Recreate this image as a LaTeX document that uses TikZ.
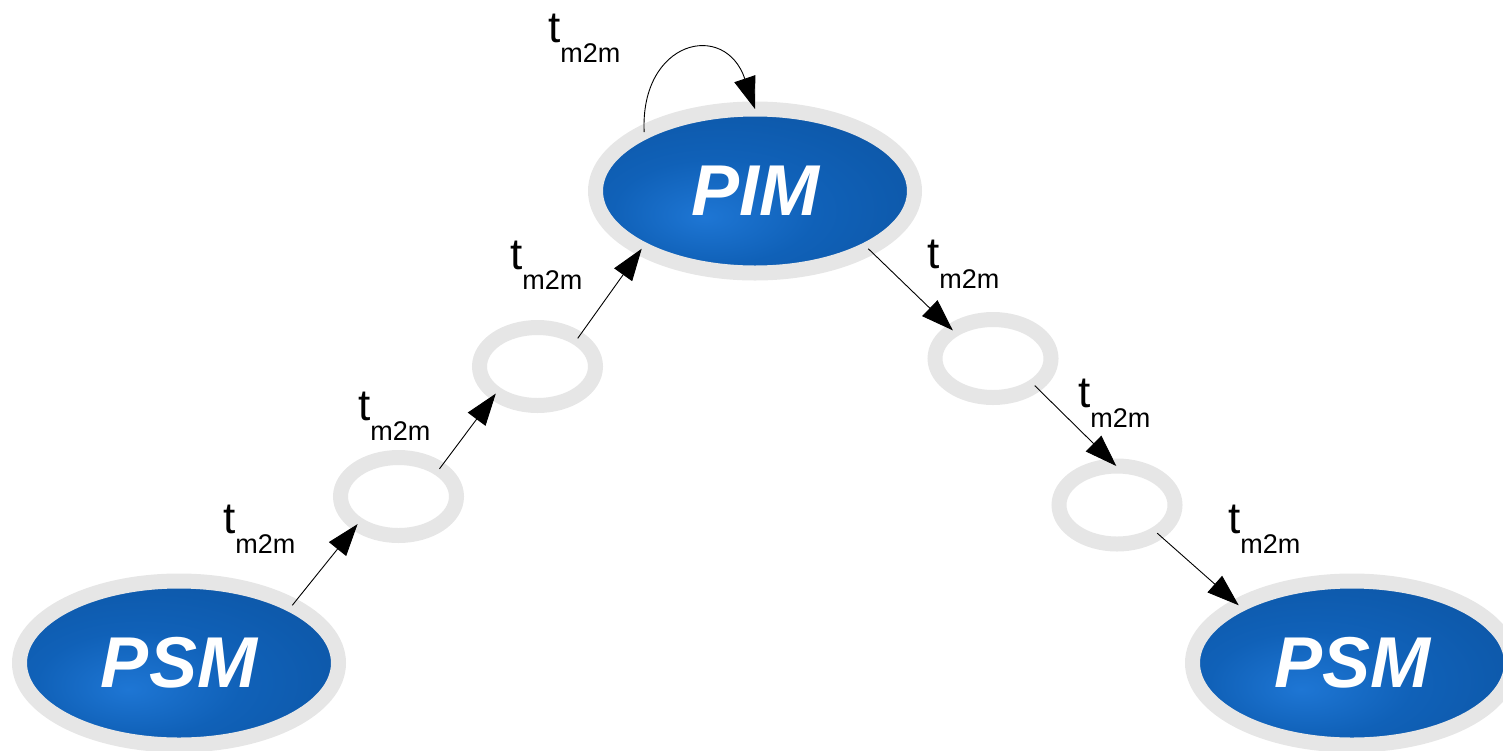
\documentclass[tikz,border=0pt]{standalone}
\usepackage{fontspec}
\setmainfont{Liberation Sans}
\usetikzlibrary{shapes.geometric,arrows.meta}

\definecolor{ringgray}{HTML}{E6E6E6}
\definecolor{blueA}{HTML}{1E76D4}
\definecolor{blueB}{HTML}{1061B8}
\definecolor{blueC}{HTML}{0A4E98}

% soft radial glow for the model ellipses, centre a little left and low
\pgfdeclareradialshading{modelblue}{\pgfpoint{-8bp}{-8bp}}{%
  color(0bp)=(blueA); color(16bp)=(blueB); color(50bp)=(blueC); color(75bp)=(blueC)}

\tikzset{
  model/.style={ellipse, draw=ringgray, line width=15pt, shade, shading=modelblue,
    minimum width=319pt, minimum height=164pt, inner sep=0pt, outer sep=0pt,
    text=white, font=\fontsize{72}{80}\selectfont\bfseries\itshape},
  stage/.style={ellipse, draw=ringgray, line width=15pt, fill=white,
    minimum width=116pt, minimum height=78pt, inner sep=0pt, outer sep=0pt},
  conn/.style={draw=black, line width=0.9pt, -{Triangle[length=32pt,width=22pt]}},
  tlabel/.style={anchor=base west, inner sep=0pt, text=black,
    font=\fontsize{44}{48}\selectfont}
}
\newcommand{\tmm}{t\raisebox{-20pt}{\fontsize{27}{30}\selectfont m2m}}

\begin{document}
\begin{tikzpicture}[x=1pt,y=-1pt]
  \useasboundingbox (0,0) rectangle (1503,750);

  % models
  \node[model] (pim)  at (755,191) {PIM};
  \node[model] (psmL) at (179,663) {PSM};
  \node[model] (psmR) at (1352,663) {PSM};

  % intermediate stages
  \node[stage] (sa) at (398.5,496.5) {};
  \node[stage] (sb) at (537.5,366.5) {};
  \node[stage] (sc) at (993,358.5) {};
  \node[stage] (sd) at (1117,505) {};

  % transformations
  \draw[conn] (psmL.27) -- (sa.214.5);
  \draw[conn] (sa.34.5) -- (sb.213.5);
  \draw[conn] (sb.35) -- (pim.207.6);
  \draw[conn] (pim.152.8) .. controls (640,40) and (725,20) .. (pim.90);
  \draw[conn] (pim.-27.8) -- (sc.145.2);
  \draw[conn] (sc.-33.9) -- (sd.91.4);
  \draw[conn] (sd.-35) -- (psmR.153);

  % labels
  \node[tlabel] (l1) at (223,533) {\tmm};
  \node[tlabel] (l2) at (358,420) {\tmm};
  \node[tlabel] (l3) at (510,269) {\tmm};
  \node[tlabel] (l4) at (548,42)  {\tmm};
  \node[tlabel] (l5) at (927,268) {\tmm};
  \node[tlabel] (l6) at (1078,407) {\tmm};
  \node[tlabel] (l7) at (1228,533) {\tmm};
\end{tikzpicture}
\end{document}
